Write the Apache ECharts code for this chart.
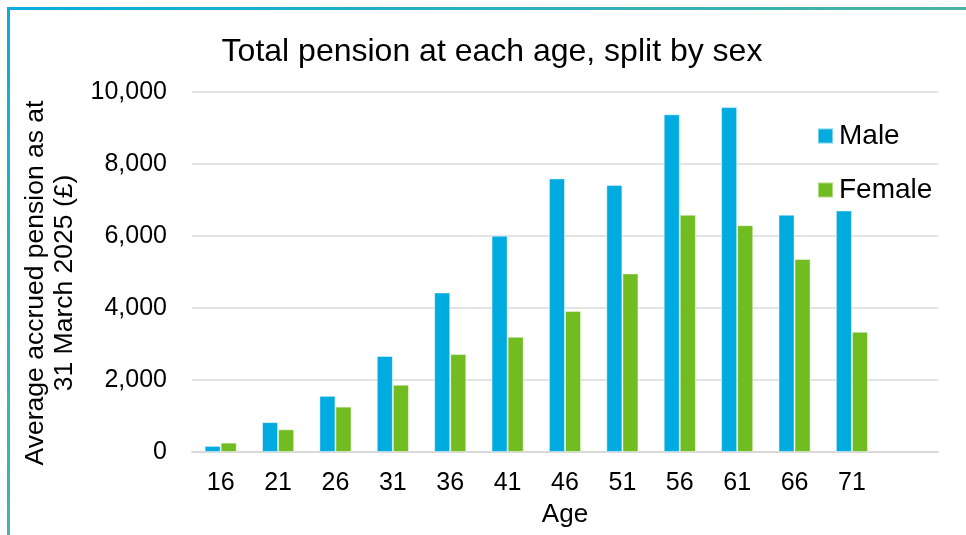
<!DOCTYPE html>
<html>
<head>
<meta charset="utf-8">
<script src="https://cdn.jsdelivr.net/npm/echarts@6/dist/echarts.min.js"></script>
<style>
  html, body { margin: 0; padding: 0; background: #ffffff; }
  #grafico { width: 966px; height: 535px; }
</style>
</head>
<body>
<div id="grafico"></div>
<script>
// Datos
const edades = ['16', '21', '26', '31', '36', '41', '46', '51', '56', '61', '66', '71', ''];
const hombres = [170, 830, 1560, 2670, 4430, 6010, 7600, 7420, 9380, 9580, 6590, 6710];
const mujeres = [260, 630, 1260, 1870, 2720, 3200, 3920, 4960, 6590, 6300, 5360, 3340];
const ticksY = [0, 2000, 4000, 6000, 8000, 10000];

const fuente = '"Liberation Sans", Arial, sans-serif';

function crearGrafico() {
    return {
        animation: false,
        backgroundColor: '#ffffff',
        title: {
            text: 'Total pension at each age, split by sex',
            left: 487,
            textAlign: 'center',
            top: 31,
            textStyle: { fontFamily: fuente, fontSize: 32, fontWeight: 'normal', color: '#000' }
        },
        legend: {
            orient: 'vertical',
            left: 812,
            top: 117,
            itemGap: 26,
            itemWidth: 15,
            itemHeight: 15,
            icon: 'rect',
            textStyle: { fontFamily: fuente, fontSize: 28, color: '#000', padding: [0, 0, 0, 1] },
            data: ['Male', 'Female']
        },
        grid: { left: 192, right: 28, top: 92, bottom: 83 },
        xAxis: {
            type: 'category',
            data: edades,
            name: 'Age',
            nameLocation: 'middle',
            nameGap: 50,
            nameTextStyle: { fontFamily: fuente, fontSize: 26, color: '#000' },
            axisLine: { lineStyle: { color: '#d9d9d9', width: 2 } },
            axisTick: { show: false },
            axisLabel: { fontFamily: fuente, fontSize: 25, color: '#000', margin: 19 }
        },
        yAxis: {
            type: 'value',
            min: ticksY[0],
            max: ticksY[ticksY.length - 1],
            interval: 2000,
            name: 'Average accrued pension as at\n31 March 2025 (£)',
            nameLocation: 'middle',
            nameGap: 110,
            nameTextStyle: {
                fontFamily: fuente, fontSize: 26.5, color: '#000', lineHeight: 29,
                padding: [0, 22, 0, 0]
            },
            axisLine: { show: false },
            axisTick: { show: false },
            splitLine: { lineStyle: { color: '#e3e3e3', width: 2 } },
            axisLabel: {
                fontFamily: fuente, fontSize: 25, color: '#000', margin: 25,
                formatter: v => v.toLocaleString('en-GB')
            }
        },
        series: [
            {
                name: 'Male',
                type: 'bar',
                data: hombres,
                barWidth: '28%',
                barGap: '0%',
                itemStyle: { color: '#00abe0', borderColor: 'rgba(255,255,255,0.45)', borderWidth: 1 }
            },
            {
                name: 'Female',
                type: 'bar',
                data: mujeres,
                barWidth: '28%',
                itemStyle: { color: '#71bc20', borderColor: 'rgba(255,255,255,0.45)', borderWidth: 1 }
            }
        ],
        graphic: [
            {
                type: 'line',
                shape: { x1: 7, y1: 8.5, x2: 966, y2: 8.5 },
                style: {
                    lineWidth: 3,
                    stroke: new echarts.graphic.LinearGradient(0, 0, 1, 0, [
                        { offset: 0, color: '#0aaddd' },
                        { offset: 1, color: '#4bb3a2' }
                    ])
                }
            },
            {
                type: 'line',
                shape: { x1: 8.5, y1: 7, x2: 8.5, y2: 535 },
                style: {
                    lineWidth: 3,
                    stroke: new echarts.graphic.LinearGradient(0, 0, 0, 1, [
                        { offset: 0, color: '#0aaddd' },
                        { offset: 1, color: '#4bb3a8' }
                    ])
                }
            }
        ]
    };
}

function iniciar() {
    const chartDom = document.getElementById('grafico');
    const myChart = echarts.init(chartDom, null, { renderer: 'canvas' });
    myChart.setOption(crearGrafico());
}

iniciar();
</script>
</body>
</html>
